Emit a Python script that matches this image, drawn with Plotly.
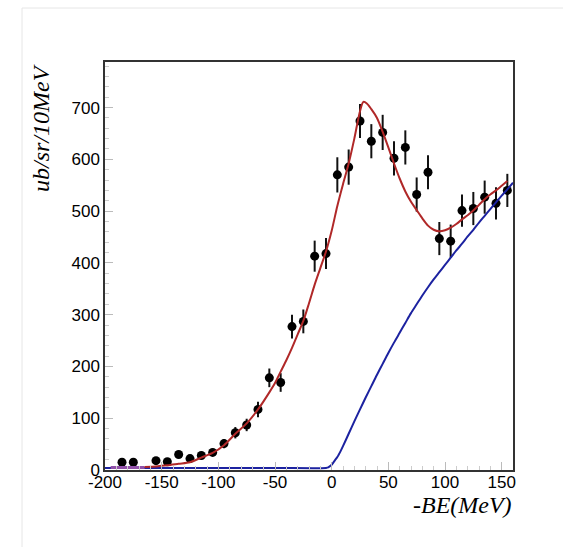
import plotly.graph_objects as go

# Data points (-BE in MeV, cross section ub/sr/10MeV, error)
data_x = [-185, -175, -155, -145, -135, -125, -115, -105, -95, -85, -75, -65, -55, -45,
          -35, -25, -15, -5, 5, 15, 25, 35, 45, 55, 65, 75, 85, 95, 105, 115, 125, 135, 145, 155]
data_y = [15, 15, 18, 16, 30, 22, 28, 34, 51, 72, 87, 117, 178, 169,
          277, 287, 413, 418, 570, 585, 674, 635, 652, 602, 623, 532, 575, 447, 442, 501, 505, 527, 515, 540]
data_err = [4, 4, 4, 4, 6, 5, 6, 7, 9, 11, 12, 15, 18, 18,
            23, 23, 30, 30, 34, 34, 33, 33, 34, 33, 33, 33, 33, 32, 32, 31, 32, 32, 31, 32]

# Total fit curve (red)
red_x = [-165, -155, -145, -135, -125, -115, -105, -95, -85, -75, -65, -55, -50, -45, -40, -35,
         -30, -25, -20, -15, -10, -5, 0, 5, 10, 15, 20, 25, 28, 31, 35, 40, 45, 50, 55, 60, 65,
         70, 75, 80, 85, 90, 95, 100, 105, 110, 115, 120, 125, 130, 135, 140, 145, 150, 155]
red_y = [6, 7, 9, 12, 15, 24, 33, 48, 70, 90, 117, 150, 168, 190, 212, 236,
         262, 288, 322, 358, 390, 422, 462, 510, 552, 592, 640, 693, 711, 708, 697, 680, 653, 623, 592, 563, 538,
         518, 502, 486, 472, 464, 461, 463, 468, 475, 484, 492, 501, 512, 523, 532, 540, 549, 558]

# Background curve (blue)
blue_x = [-200, -150, -100, -50, -5, -3, -1, 1, 3, 5, 8, 10, 15, 20, 25, 30, 35, 40, 45, 50, 55,
          60, 65, 70, 75, 80, 85, 90, 95, 100, 105, 110, 115, 120, 125, 130, 135, 140, 145, 150, 155, 160]
blue_y = [4, 4, 4, 4, 4, 5, 8, 13, 19, 25, 37, 46, 70, 94, 117, 140, 162, 184, 205, 226, 246,
          265, 284, 303, 320, 337, 353, 368, 382, 396, 410, 424, 437, 451, 464, 478, 491, 504, 517, 530, 542, 555]

# Small purple segment at the low end
purple_x = [-195, -165]
purple_y = [5, 5]

x_ticks = [-200, -150, -100, -50, 0, 50, 100, 150]
y_ticks = [0, 100, 200, 300, 400, 500, 600, 700]

W, H = 563, 547
ML, MR, MT, MB = 105, 50, 62, 77

fig = go.Figure()
fig.add_trace(go.Scatter(
    x=data_x, y=data_y, mode="markers",
    marker=dict(color="black", size=9),
    error_y=dict(type="data", array=data_err, color="#111", thickness=2, width=0),
    showlegend=False))
fig.add_trace(go.Scatter(x=blue_x, y=blue_y, mode="lines",
                         line=dict(color="#1c22a0", width=2, shape="spline", smoothing=0.8),
                         showlegend=False))
fig.add_trace(go.Scatter(x=purple_x, y=purple_y, mode="lines", line=dict(color="#9050a8", width=3),
                         showlegend=False))
fig.add_trace(go.Scatter(x=red_x, y=red_y, mode="lines",
                         line=dict(color="#b02828", width=2, shape="spline", smoothing=0.8),
                         showlegend=False))

tickfont = dict(family="Liberation Sans, Arial, sans-serif", size=17, color="black")
fig.update_layout(
    width=W, height=H,
    margin=dict(l=ML, r=MR, t=MT, b=MB),
    paper_bgcolor="white", plot_bgcolor="white",
    xaxis=dict(range=[-200, 160], tickmode="array", tickvals=x_ticks,
               ticktext=[str(v) for v in x_ticks],
               ticks="inside", ticklen=8, tickcolor="#bbbbbb", tickwidth=1,
               minor=dict(ticks="inside", ticklen=4, dtick=10, tick0=-200, tickcolor="#cccccc", showgrid=False),
               showgrid=False, zeroline=False, showline=True, mirror=True,
               linecolor="#333333", linewidth=1.5, tickfont=tickfont, ticklabelstandoff=-4),
    yaxis=dict(range=[0, 788], tickmode="array", tickvals=y_ticks,
               ticktext=[str(v) for v in y_ticks],
               ticks="inside", ticklen=8, tickcolor="#bbbbbb", tickwidth=1,
               minor=dict(ticks="inside", ticklen=4, dtick=20, tick0=0, tickcolor="#cccccc", showgrid=False),
               showgrid=False, zeroline=False, showline=True, mirror=True,
               linecolor="#333333", linewidth=1.5, tickfont=tickfont),
)

pw = W - ML - MR
ph = H - MT - MB
def px_x(p):
    return (p - ML) / pw
def px_y(p):
    return (H - MB - p) / ph

titlefont = dict(family="Liberation Serif, Times New Roman, serif", size=24, color="black")
fig.add_annotation(text="<i>-BE(MeV)</i>", xref="paper", yref="paper",
                   x=px_x(514), y=px_y(505), xanchor="right", yanchor="middle",
                   showarrow=False, font=titlefont)
fig.add_annotation(text="<i>ub/sr/10MeV</i>", xref="paper", yref="paper",
                   x=px_x(41), y=px_y(62), xanchor="center", yanchor="top", textangle=-90,
                   showarrow=False, font=titlefont)

# faint canvas border
fig.add_shape(type="rect", xref="paper", yref="paper",
              x0=px_x(22), x1=px_x(600), y0=px_y(600), y1=px_y(8),
              line=dict(color="#e6e6e6", width=1), layer="below")

fig.write_html("out.html")
